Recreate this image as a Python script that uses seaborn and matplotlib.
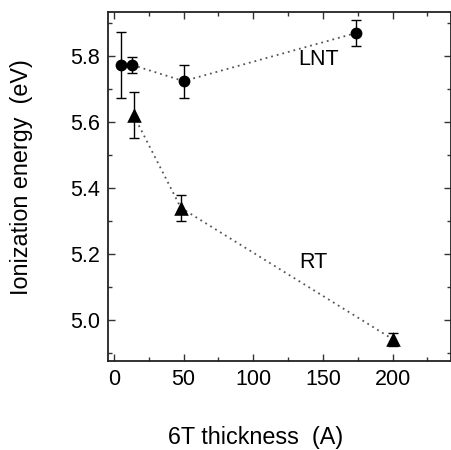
import numpy as np
import pandas as pd
import matplotlib
matplotlib.use("Agg")
import matplotlib.pyplot as plt
import seaborn as sns
from matplotlib.ticker import MultipleLocator

# Data
lnt_x = [5, 13, 50, 174]
lnt_y = [5.773, 5.773, 5.724, 5.870]
lnt_err = [0.10, 0.025, 0.05, 0.04]

rt_x = [14, 48, 200]
rt_y = [5.621, 5.340, 4.942]
rt_err = [0.07, 0.04, 0.02]

x_ticks = [0, 50, 100, 150, 200]
y_ticks = [5.0, 5.2, 5.4, 5.6, 5.8]

sns.set_theme(style="ticks")
plt.rcParams['font.family'] = ['Liberation Sans', 'DejaVu Sans']
plt.rcParams['text.color'] = 'black'
plt.rcParams['axes.labelcolor'] = 'black'
plt.rcParams['xtick.color'] = 'black'
plt.rcParams['ytick.color'] = 'black'

fig = plt.figure(figsize=(4.52, 4.50), dpi=100)
ax = fig.add_axes([0.239, 0.198, 0.759, 0.775])

df_l = pd.DataFrame({"x": lnt_x, "y": lnt_y})
df_r = pd.DataFrame({"x": rt_x, "y": rt_y})

for df, err, mk, ms in [(df_l, lnt_err, 'o', 8.5), (df_r, rt_err, '^', 10.5)]:
    sns.lineplot(data=df, x="x", y="y", ax=ax, color='#555555', linestyle=(0, (1, 2.2)),
                 linewidth=1.3, marker=None, sort=False, estimator=None)
    ax.errorbar(df["x"], df["y"], yerr=err, fmt='none', ecolor='black',
                elinewidth=1.0, capsize=3.5, capthick=1.0, zorder=3)
    sns.scatterplot(data=df, x="x", y="y", ax=ax, marker=mk, s=ms**2,
                    color='black', edgecolor='black', linewidth=0, zorder=4)

ax.text(147, 5.788, "LNT", fontsize=15.5, ha='center', va='center', color='black')
ax.text(143, 5.173, "RT", fontsize=15.5, ha='center', va='center', color='black')

ax.set_xlim(-4.3, 242)
ax.set_ylim(4.876, 5.933)
ax.set_xticks(x_ticks)
ax.set_yticks(y_ticks)
ax.set_yticklabels([f"{v:.1f}" for v in y_ticks])
ax.xaxis.set_minor_locator(MultipleLocator(25))
ax.yaxis.set_minor_locator(MultipleLocator(0.1))
ax.tick_params(which='both', direction='in', top=True, right=True, labelsize=15.5,
               color='#333333', labelcolor='black', width=1.0)
ax.tick_params(which='major', length=5, pad=6)
ax.tick_params(which='minor', length=3)
for s in ax.spines.values():
    s.set_linewidth(1.3)
    s.set_color('#222222')

ax.set_xlabel("6T thickness  (A)", fontsize=16.8, color='black')
ax.set_ylabel("Ionization energy  (eV)", fontsize=16.8, color='black')
ax.xaxis.set_label_coords(0.43, -0.186)
ax.yaxis.set_label_coords(-0.219, 0.526)

fig.savefig("out.png", dpi=100)
